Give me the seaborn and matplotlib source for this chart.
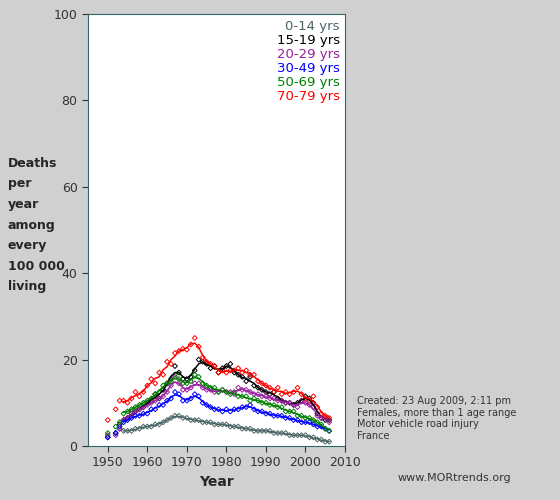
import numpy as np
import pandas as pd
import matplotlib
matplotlib.use("Agg")
import matplotlib.pyplot as plt
import seaborn as sns

years = list(range(1950, 2007))
nan = np.nan
age_groups = ["0-14 yrs", "15-19 yrs", "20-29 yrs", "30-49 yrs", "50-69 yrs", "70-79 yrs"]
colors = ["#4a6464", "#000000", "#9a1ea0", "#0000ff", "#008000", "#ff0000"]

rate_0_14 = [nan, nan, nan, 4.0, 3.5, 3.5, 3.5, 4.0, 4.0, 4.5,
             4.5, 4.5, 5.0, 5.0, 5.5, 6.0, 6.5, 7.0, 7.0, 6.5,
             6.5, 6.0, 6.0, 6.0, 5.5, 5.5, 5.5, 5.0, 5.0, 5.0,
             5.0, 4.5, 4.5, 4.5, 4.0, 4.0, 4.0, 3.5, 3.5, 3.5,
             3.5, 3.5, 3.0, 3.0, 3.0, 3.0, 2.5, 2.5, 2.5, 2.5,
             2.5, 2.0, 2.0, 1.5, 1.5, 1.0, 1.0]
rate_15_19 = [2.0, nan, 3.0, 5.0, 6.0, 6.5, 7.5, 8.0, 8.5, 9.0,
              10.0, 10.5, 12.0, 11.0, 13.0, 14.5, 15.5, 18.5, 17.0, 15.5,
              15.5, 16.0, 17.5, 20.0, 19.5, 19.0, 18.0, 18.5, 17.0, 18.0,
              18.5, 19.0, 17.0, 16.5, 16.0, 15.0, 16.0, 14.0, 13.5, 13.0,
              12.5, 12.0, 12.5, 11.0, 10.5, 10.0, 10.0, 9.5, 10.0, 10.5,
              11.5, 11.0, 10.0, 7.5, 6.5, 6.0, 6.0]
rate_20_29 = [2.5, nan, 2.5, 4.0, 6.0, 6.5, 7.5, 8.0, 8.5, 9.0,
              9.5, 10.0, 10.5, 11.0, 11.5, 12.5, 14.0, 16.0, 14.5, 13.0,
              13.0, 13.5, 14.5, 14.5, 13.5, 13.0, 13.0, 12.5, 12.5, 13.0,
              12.5, 12.5, 12.0, 13.5, 13.0, 13.0, 12.5, 12.0, 12.0, 11.5,
              11.5, 11.0, 11.0, 10.5, 10.5, 10.0, 10.0, 9.5, 9.0, 10.5,
              10.0, 9.5, 9.0, 7.0, 6.5, 6.5, 5.5]
rate_30_49 = [2.0, nan, 3.0, 4.5, 5.5, 6.0, 6.5, 7.0, 7.0, 7.5,
              7.5, 8.5, 8.5, 9.5, 9.5, 10.5, 11.0, 12.5, 12.0, 10.5,
              10.5, 11.0, 12.0, 11.5, 10.0, 9.5, 9.0, 8.5, 8.5, 8.0,
              8.5, 8.0, 8.5, 8.5, 9.0, 9.0, 9.5, 8.5, 8.0, 8.0,
              7.5, 7.5, 7.0, 7.0, 7.0, 6.5, 6.5, 6.0, 6.0, 5.5,
              5.5, 5.5, 5.0, 4.5, 4.5, 4.0, 3.5]
rate_50_69 = [3.0, nan, 4.5, 5.5, 7.5, 8.0, 8.5, 9.0, 9.5, 10.0,
              10.5, 11.0, 12.0, 12.5, 14.0, 14.5, 15.0, 16.5, 15.5, 14.5,
              14.5, 15.0, 16.5, 16.0, 14.5, 14.0, 13.5, 13.5, 12.5, 13.0,
              12.5, 12.0, 12.5, 11.5, 11.5, 11.5, 10.5, 11.0, 10.5, 10.0,
              10.0, 9.5, 9.5, 9.0, 9.0, 8.0, 8.0, 8.0, 7.0, 7.0,
              6.5, 6.5, 6.0, 5.5, 5.0, 4.0, 3.5]
rate_70_79 = [6.0, nan, 8.5, 10.5, 10.5, 10.0, 11.0, 12.5, 11.5, 12.5,
              14.0, 15.5, 14.5, 17.0, 16.5, 19.5, 19.0, 21.5, 22.0, 22.5,
              22.3, 23.5, 25.0, 23.0, 20.5, 19.5, 19.0, 18.5, 17.0, 17.5,
              17.0, 17.5, 17.5, 18.0, 17.0, 17.5, 16.5, 16.5, 15.0, 14.5,
              14.0, 13.5, 12.5, 13.5, 12.0, 12.5, 12.0, 12.5, 13.5, 12.0,
              11.0, 10.5, 11.5, 9.0, 7.5, 7.0, 6.5]
series = [rate_0_14, rate_15_19, rate_20_29, rate_30_49, rate_50_69, rate_70_79]

sns.set_style("white")
plt.rcParams["font.family"] = ["DejaVu Sans"]

fig = plt.figure(figsize=(5.6, 5.0), dpi=100, facecolor="#d0d0d0")
ax = fig.add_axes([88 / 560, 54 / 500, 257 / 560, 432 / 500])
ax.set_facecolor("white")

for label, vals, c in zip(age_groups, series, colors):
    df = pd.DataFrame({"year": years, "rate": vals})
    sns.scatterplot(data=df, x="year", y="rate", ax=ax, marker="D", s=6,
                    facecolor="none", edgecolor=c, linewidth=0.7, legend=False)
    smooth = df[df["year"] >= 1954].copy()
    smooth["rate"] = smooth["rate"].rolling(3, center=True, min_periods=1).mean()
    sns.lineplot(data=smooth, x="year", y="rate", ax=ax, color=c, linewidth=1.1)

ax.set_xlim(1945, 2010)
ax.set_ylim(0, 100)
ax.set_xticks(range(1950, 2011, 10))
ax.set_yticks(range(0, 101, 20))
ax.tick_params(axis="both", direction="out", length=4, width=0.8, colors="#333333", labelsize=9,
               bottom=True, left=True)
for sp in ax.spines.values():
    sp.set_color("#336666")
    sp.set_linewidth(0.8)
ax.set_xlabel("Year", fontsize=10, fontweight="bold", labelpad=4)
ax.set_ylabel("")

for i, (label, c) in enumerate(zip(age_groups, colors)):
    ax.text(0.98, 0.985 - i * 0.032, label, transform=ax.transAxes, ha="right", va="top",
            color=c, fontsize=9.5)

fig.text(8 / 560, 1 - 157 / 500, "Deaths\nper\nyear\namong\nevery\n100 000\nliving", ha="left", va="top",
         fontsize=9, fontweight="bold", linespacing=1.75)
fig.text(357 / 560, 1 - 396 / 500,
         "Created: 23 Aug 2009, 2:11 pm\nFemales, more than 1 age range\nMotor vehicle road injury\nFrance",
         ha="left", va="top", fontsize=7, color="#333333", linespacing=1.2)
fig.text(398 / 560, 1 - 478 / 500, "www.MORtrends.org", ha="left", va="center", fontsize=8, color="#333333")

fig.savefig("out.png", dpi=100, facecolor=fig.get_facecolor())
